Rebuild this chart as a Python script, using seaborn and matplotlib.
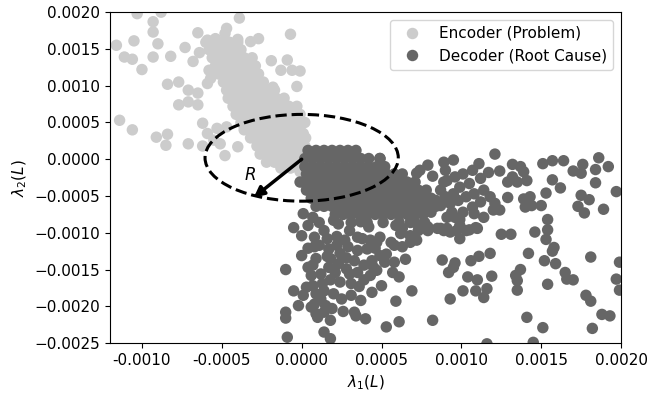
import numpy as np
import pandas as pd
import matplotlib
matplotlib.use("Agg")
import matplotlib.pyplot as plt
import seaborn as sns
from matplotlib.patches import Ellipse

SCALE = 1e-4

# Encoder (Problem): scattered points first, then the dense diagonal band
enc_x = [
    -11.6, -10.3, -8.8, -9.3, -9.3, -10.5, -9.0, -11.1, -10.6, -9.3,
    -8.2, -10.0, -7.3, -6.5, -6.4, -6.8, -8.4, -7.7, -7.1, -6.5,
    -7.7, -7.1, -6.5, -11.4, -10.6, -9.1, -8.4, -8.5, -7.1, -6.2,
    -6.2, -5.9, -5.3, -4.7, -4.8, -4.0, -3.9, -3.9, -4.7, -4.0,
    -3.2, -2.7, -0.7, -1.9, -0.9, -1.3, -0.6, -0.1, -0.3, -1.8,
    -5.8, -5.7, -5.9, -5.9, -5.4, -4.8, -5.2, 0.1, -0.1, -5.1,
    -5.5,
    # dense band
    -6.0, -5.5, -5.0, -4.5, -4.0,
    -5.8, -5.3, -4.8, -4.3, -3.8,
    -5.6, -5.1, -4.6, -4.1, -3.6, -3.1,
    -5.4, -4.9, -4.4, -3.9, -3.4, -2.9,
    -5.2, -4.7, -4.2, -3.7, -3.2, -2.7,
    -4.9, -4.4, -3.9, -3.4, -2.9, -2.4,
    -4.7, -4.2, -3.7, -3.2, -2.7, -2.2, -1.7,
    -4.6, -4.1, -3.6, -3.1, -2.6, -2.1, -1.6, -1.1,
    -4.3, -3.8, -3.3, -2.8, -2.3, -1.8, -1.3, -0.8, -0.3,
    -4.1, -3.6, -3.1, -2.6, -2.1, -1.6, -1.1, -0.6, -0.1,
    -3.8, -3.3, -2.8, -2.3, -1.8, -1.3, -0.8, -0.3, 0.2,
    -3.6, -3.1, -2.6, -2.1, -1.6, -1.1, -0.6, -0.1,
    -3.2, -2.7, -2.2, -1.7, -1.2, -0.7, -0.2, 0.25,
    -2.8, -2.3, -1.8, -1.3, -0.8, -0.3, 0.2,
    -2.6, -2.1, -1.6, -1.1, -0.6, -0.1,
    -2.2, -1.7, -1.2, -0.7, -0.2,
    -1.3, -0.7, -0.2,
]
enc_y = [
    15.5, 19.8, 20.0, 18.7, 17.3, 16.1, 15.7, 13.9, 13.6, 13.9,
    14.0, 12.2, 15.2, 17.2, 14.5, 13.3, 10.2, 10.5, 9.4, 9.0,
    7.4, 7.8, 7.4, 5.3, 4.0, 3.0, 3.4, 1.9, 2.1, 1.8,
    4.9, 3.5, 4.2, 4.4, 0.5, 1.7, 20.5, 19.2, 17.8, 16.3,
    16.0, 16.4, 17.0, 13.4, 13.5, 12.1, 12.1, 12.0, 9.9, 9.8,
    12.1, 11.0, 10.3, 16.2, 16.4, 17.1, 15.8, 3.5, -1.7, 2.1,
    2.6,
    # dense band
    15.9, 15.9, 15.9, 15.9, 15.9,
    14.9, 14.9, 14.9, 14.9, 14.9,
    13.8, 13.8, 13.8, 13.8, 13.8, 13.8,
    12.7, 12.7, 12.7, 12.7, 12.7, 12.7,
    11.6, 11.6, 11.6, 11.6, 11.6, 11.6,
    10.5, 10.5, 10.5, 10.5, 10.5, 10.5,
    9.4, 9.4, 9.4, 9.4, 9.4, 9.4, 9.4,
    8.3, 8.3, 8.3, 8.3, 8.3, 8.3, 8.3, 8.3,
    7.2, 7.2, 7.2, 7.2, 7.2, 7.2, 7.2, 7.2, 7.2,
    6.1, 6.1, 6.1, 6.1, 6.1, 6.1, 6.1, 6.1, 6.1,
    5.0, 5.0, 5.0, 5.0, 5.0, 5.0, 5.0, 5.0, 5.0,
    4.0, 4.0, 4.0, 4.0, 4.0, 4.0, 4.0, 4.0,
    2.9, 2.9, 2.9, 2.9, 2.9, 2.9, 2.9, 2.9,
    1.8, 1.8, 1.8, 1.8, 1.8, 1.8, 1.8,
    0.7, 0.7, 0.7, 0.7, 0.7, 0.7,
    -0.4, -0.4, -0.4, -0.4, -0.4,
    -1.2, -1.2, -1.2,
]

# Decoder (Root Cause): scattered points, then the dense blob near the origin
dec_x = [
    12.1, 7.9, 8.9, 9.5, 11.1, 11.7, 12.4, 13.2, 13.7, 13.9,
    14.1, 13.2, 13.5, 12.9, 15.1, 15.7, 16.4, 17.0, 17.6, 17.5,
    18.4, 18.6, 19.2, 15.7, 16.2, 15.3, 17.5, 18.0, 18.4, 19.7,
    17.3, 17.7, 18.9, 13.9, 14.3, 14.0, 14.4, 15.0, 15.4, 15.4,
    15.3, 15.8, 12.9, 12.4, 14.6, 12.5, 13.1, 11.4, 11.0, 10.3,
    9.9, 9.9, 7.9, 8.5, 8.9, 9.3, 14.2, 15.2, 15.7, 15.9,
    16.5, 16.6, 17.0, 18.1, 19.9, 19.7, 19.9, 13.7, 13.4, 13.5,
    13.5, 15.4, 17.8, 18.1, 18.8, 19.3, 18.2, 14.1, 15.1, 14.5,
    11.6, 11.8, 11.1, 10.6, 9.6, 9.5, 9.2, 8.8, 10.4, 11.0,
    11.9, 10.1, 10.9, 11.6, 11.4, 9.3, 8.2, 6.9, 5.9, 6.1,
    5.3, 5.0, 6.1, 6.5, 5.8, 5.3, 4.9, 5.8, 6.3, 6.8,
    4.7, -1.0, 0.0, 0.8, -0.5, -0.2, -1.0, -1.0, -0.9, 1.4,
    1.8, 1.8, 2.6, 3.3, 3.4, 4.0, -0.5, 0.0, 0.8, 1.4,
    2.0, 2.3, 3.0, 3.7, 4.2, 3.5, 4.3, 4.9, 5.6, 6.2,
    6.8, 7.2, 7.9, 8.7, 9.1, 7.2, 8.9, 4.9, -0.1, 0.1,
    0.7, 9.1, 9.6, 10.1, 10.7, 11.2, 10.5, 9.9, 9.5, 9.0,
    9.3, 10.3, 10.8, 11.4, 11.8, 12.1, 11.2, 10.7, 10.1, 9.6,
    10.8, 12.0, 9.9, 9.1, 9.7, 10.5, 10.9, 0.4, 0.7, 0.6,
    1.2, 1.7, 1.8, 2.3, 2.4, 1.7, 2.2, 2.9, 3.5, 4.1,
    3.3, 3.9, 4.4, 4.5, 3.5, 3.0, 3.1, 3.9, 2.4, 2.0,
    2.5, 1.4, 1.2, 0.8, 1.5, 0.9, 0.3, 0.1, 0.6, 1.4,
    1.0, 1.9, 1.3, 1.8, 0.9, 0.4, 1.1, 1.6, 2.2, 2.7,
    1.1, 0.4, 1.6, 0.9, 2.8, 2.1, 0.7, 3.6, 4.3, 3.1,
    3.7, 4.4, 5.2, 4.7, 5.7, 3.8, 4.6, 2.8, 7.4, 8.2,
    8.7, 8.4, 8.1, 7.7, 8.7, 6.8, 6.3, 7.3, 5.9, 9.0,
    9.8, 9.4,
    # dense blob
    0.4, 0.9, 1.4, 1.9, 2.4, 2.9, 3.4,
    0.2, 0.7, 1.2, 1.7, 2.2, 2.7, 3.2, 3.7, 4.2, 4.9,
    0.2, 0.7, 1.2, 1.7, 2.2, 2.7, 3.2, 3.7, 4.2, 4.7, 5.2,
    0.3, 0.8, 1.3, 1.8, 2.3, 2.8, 3.3, 3.8, 4.3, 4.8, 5.3, 5.8, 6.3,
    0.1, 0.6, 1.1, 1.6, 2.1, 2.6, 3.1, 3.6, 4.1, 4.6, 5.1, 5.6, 6.1, 6.6, 7.1,
    0.3, 0.8, 1.3, 1.8, 2.3, 2.8, 3.3, 3.8, 4.3, 4.8, 5.3, 5.8, 6.3, 6.8, 7.3, 7.8,
    0.6, 1.1, 1.6, 2.1, 2.6, 3.1, 3.6, 4.1, 4.6, 5.1, 5.6, 6.1, 6.6, 7.1, 7.6, 8.1,
    0.9, 1.4, 1.9, 2.4, 2.9, 3.4, 3.9, 4.4, 4.9, 5.4, 5.9, 6.4, 6.9, 7.4, 7.9, 8.4,
    2.1, 2.6, 3.1, 3.6, 4.1, 4.6, 5.1, 5.6, 6.1, 6.6, 7.1, 7.6,
    3.1, 4.1, 5.1, 6.1, 7.1,
]
dec_y = [
    0.7, -0.8, -0.4, -0.1, -0.6, -1.8, -1.6, -0.7, -1.0, -1.7,
    -2.9, -2.4, -3.1, -3.1, -0.6, -0.2, -0.2, -1.6, -0.7, -1.9,
    -1.4, 0.2, -1.0, -2.8, -3.9, -4.6, -4.9, -5.5, -3.2, -4.4,
    -6.4, -7.3, -6.8, -5.4, -5.1, -6.5, -6.3, -6.3, -8.2, -9.6,
    -10.9, -12.0, -5.2, -6.9, -9.9, -10.2, -10.2, -7.9, -9.4, -9.7,
    -10.8, -8.2, -9.7, -9.4, -9.7, -9.9, -12.8, -13.8, -12.5, -14.2,
    -15.4, -16.3, -16.4, -13.3, -14.0, -16.3, -17.8, -15.0, -15.8, -16.5,
    -17.8, -17.0, -18.5, -19.3, -21.1, -21.3, -23.0, -21.5, -22.9, -24.9,
    -25.1, -12.8, -13.2, -13.8, -14.1, -14.7, -15.4, -13.7, -16.0, -16.4,
    -15.9, -17.9, -17.9, -17.6, -18.8, -19.0, -21.9, -17.9, -19.3, -22.1,
    -22.8, -17.2, -16.0, -13.6, -14.0, -12.9, -13.1, -11.7, -11.9, -11.3,
    -11.3, -15.0, -13.1, -11.9, -17.9, -19.9, -20.8, -21.6, -24.2, -23.5,
    -24.4, -21.9, -20.7, -20.8, -21.3, -21.7, -9.3, -10.4, -10.6, -9.7,
    -8.3, -8.8, -9.7, -8.5, -9.2, -10.6, -11.0, -10.6, -11.3, -10.1,
    -10.4, -11.0, -9.2, -9.4, -7.9, -1.9, -3.1, 0.1, -3.1, -7.4,
    -7.9, -2.9, -2.4, -2.0, -1.5, -2.6, -3.3, -3.8, -4.7, -5.1,
    -6.0, -5.1, -4.7, -4.2, -5.1, -6.0, -5.8, -6.5, -7.2, -7.9,
    -7.4, -6.9, -9.0, -9.4, -9.7, -9.6, -9.3, -14.7, -14.4, -15.8,
    -15.6, -14.7, -13.5, -14.2, -12.8, -12.2, -11.7, -11.9, -12.4, -12.2,
    -13.8, -14.4, -13.8, -14.7, -15.4, -15.6, -16.9, -16.4, -16.7, -18.3,
    -19.0, -17.9, -19.0, -19.7, -19.9, -21.0, -17.4, -18.5, -20.1, -20.8,
    -21.5, -20.3, -16.9, -16.4, -18.3, -9.0, -8.6, -10.8, -10.5, -11.0,
    -11.7, -12.1, -13.2, -13.5, -14.9, -15.4, -17.2, -17.3, -15.8, -18.5,
    -19.2, -18.1, -14.0, -15.1, -15.4, -10.8, -12.1, -13.4, -1.5, -2.3,
    -4.2, -5.6, -7.2, -8.6, -6.3, -8.6, -9.4, -9.7, -9.0, -1.5,
    -5.6, -7.2,
    # dense blob
    1.2, 1.2, 1.2, 1.2, 1.2, 1.2, 1.2,
    0.1, 0.1, 0.1, 0.1, 0.1, 0.1, 0.1, 0.1, 0.1, 0.1,
    -1.0, -1.0, -1.0, -1.0, -1.0, -1.0, -1.0, -1.0, -1.0, -1.0, -1.0,
    -2.0, -2.0, -2.0, -2.0, -2.0, -2.0, -2.0, -2.0, -2.0, -2.0, -2.0, -2.0, -2.0,
    -3.1, -3.1, -3.1, -3.1, -3.1, -3.1, -3.1, -3.1, -3.1, -3.1, -3.1, -3.1, -3.1, -3.1, -3.1,
    -4.2, -4.2, -4.2, -4.2, -4.2, -4.2, -4.2, -4.2, -4.2, -4.2, -4.2, -4.2, -4.2, -4.2, -4.2, -4.2,
    -5.3, -5.3, -5.3, -5.3, -5.3, -5.3, -5.3, -5.3, -5.3, -5.3, -5.3, -5.3, -5.3, -5.3, -5.3, -5.3,
    -6.4, -6.4, -6.4, -6.4, -6.4, -6.4, -6.4, -6.4, -6.4, -6.4, -6.4, -6.4, -6.4, -6.4, -6.4, -6.4,
    -7.5, -7.5, -7.5, -7.5, -7.5, -7.5, -7.5, -7.5, -7.5, -7.5, -7.5, -7.5,
    -8.6, -8.6, -8.6, -8.6, -8.6,
]

groups = ["Encoder (Problem)", "Decoder (Root Cause)"]
colors = ["#cccccc", "#666666"]

xtick_vals = [-0.0010, -0.0005, 0.0000, 0.0005, 0.0010, 0.0015, 0.0020]
xtick_labels = ["-0.0010", "-0.0005", "0.0000", "0.0005", "0.0010", "0.0015", "0.0020"]
ytick_vals = [-0.0025, -0.0020, -0.0015, -0.0010, -0.0005, 0.0000, 0.0005, 0.0010, 0.0015, 0.0020]
ytick_labels = ["\u22120.0025", "\u22120.0020", "\u22120.0015", "\u22120.0010", "\u22120.0005",
                "0.0000", "0.0005", "0.0010", "0.0015", "0.0020"]

assert len(enc_x) == len(enc_y)
assert len(dec_x) == len(dec_y)

df = pd.DataFrame({
    "x": np.array(enc_x + dec_x) * SCALE,
    "y": np.array(enc_y + dec_y) * SCALE,
    "group": [groups[0]] * len(enc_x) + [groups[1]] * len(dec_x),
})

plt.rcParams["font.size"] = 11
fig, ax = plt.subplots(figsize=(6.49, 3.93), dpi=100)
fig.subplots_adjust(left=0.1695, right=0.957, bottom=0.127, top=0.969)

sns.scatterplot(data=df, x="x", y="y", hue="group", hue_order=groups,
                palette=colors, s=68, linewidth=0, alpha=1, ax=ax)

# circle of radius R around the origin
ax.add_patch(Ellipse((0.0, 0.00002), 0.00121, 0.00118, fill=False,
                     linestyle="--", linewidth=2.2, edgecolor="black", zorder=4))
ax.annotate("", xy=(-0.0003, -0.00052), xytext=(0.0, 0.0),
            arrowprops=dict(arrowstyle="-|>", color="black", lw=2.5,
                            mutation_scale=15, shrinkA=0, shrinkB=0), zorder=5)
ax.text(-0.000325, -0.00022, "$R$", fontsize=12, ha="center", va="center")

ax.set_xlim(-0.0012, 0.0020)
ax.set_ylim(-0.0025, 0.0020)
ax.set_xticks(xtick_vals)
ax.set_xticklabels(xtick_labels)
ax.set_yticks(ytick_vals)
ax.set_yticklabels(ytick_labels)
ax.set_xlabel(r"$\lambda_1(L)$")
ax.set_ylabel(r"$\lambda_2(L)$")

sns.move_legend(ax, "upper right", title=None, frameon=True, fontsize=11)

fig.savefig("out.png", dpi=100)
